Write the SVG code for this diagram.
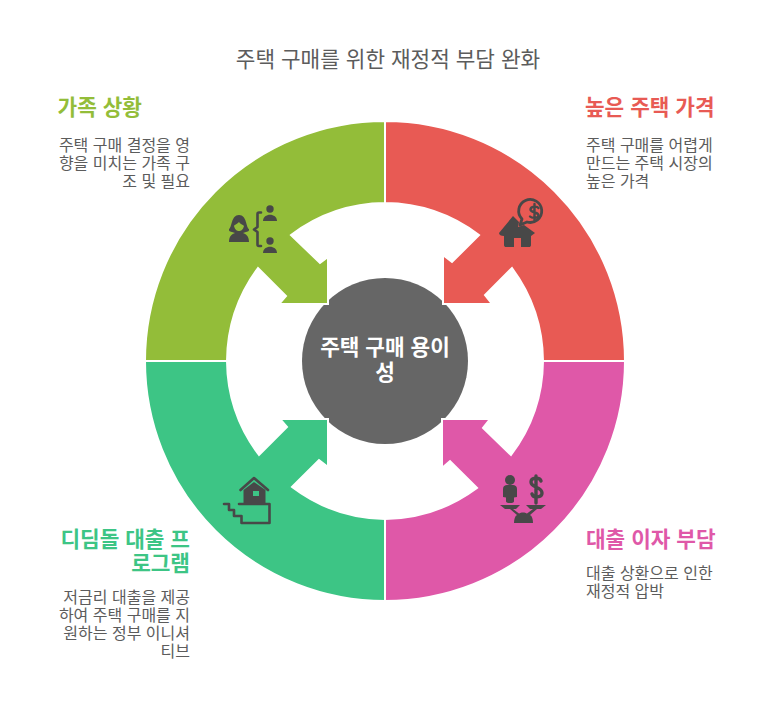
<svg xmlns="http://www.w3.org/2000/svg" width="776" height="710" viewBox="0 0 776 710">
<style>
text{font-family:"Liberation Sans","Noto Sans CJK KR",sans-serif}
.seg{stroke:#fff;stroke-width:2;stroke-linejoin:miter}
.ttl{font-size:21.33px;fill:#5c5c5c}
.h{font-size:21.33px;font-weight:700}
.b{font-size:16px;fill:#5c5c5c}
.c{font-size:21.33px;font-weight:700;fill:#fff;text-anchor:middle}
.ic{fill:#484848}
.il{fill:none;stroke:#484848;stroke-width:2.6;stroke-linecap:round;stroke-linejoin:round}
.e{text-anchor:end}
</style>
<rect width="776" height="710" fill="#fff"/>
<text class="ttl" x="388" y="67" text-anchor="middle">주택 구매를 위한 재정적 부담 완화</text>
<g id="center"><circle cx="385" cy="361" r="83" fill="#666"/>
<text class="c" x="385" y="355">주택 구매 용이</text>
<text class="c" x="385" y="380">성</text></g>
<g id="connectors">
<path class="seg" fill="#93bd39" d="M385 121A240 240 0 0 0 145 361H227A158 158 0 0 1 258 268L286 296L279 304H328V257L320 263L291 235A158 158 0 0 1 385 203Z"/>
<path class="seg" fill="#e85a54" d="M385 121A240 240 0 0 1 625 361H543A158 158 0 0 0 512 268L485 295L492 304H443V255L452 262L479 235A158 158 0 0 0 385 203Z"/>
<path class="seg" fill="#df58a8" d="M625 361A240 240 0 0 1 385 601V519A158 158 0 0 0 477 488L450 461L442 468V419H490L483 428L511 455A158 158 0 0 0 543 361Z"/>
<path class="seg" fill="#3dc585" d="M145 361A240 240 0 0 0 385 601V519A158 158 0 0 1 292 487L319 460L328 467V419H280L287 427L259 455A158 158 0 0 1 227 361Z"/>
</g>
<g id="family">
<text class="h e" x="142" y="115" fill="#93bd39">가족 상황</text>
<text class="b e" x="190" y="151">주택 구매 결정을 영</text>
<text class="b e" x="190" y="169">향을 미치는 가족 구</text>
<text class="b e" x="190" y="187">조 및 필요</text>
<g>
<path class="ic" d="M229 242C229 236 232 234 235 233L232 232C229 231.500 229 231 229 229C232 228 231 215 239 215C247 215 246 228 249 229C249 231 249 231.500 246 232L243 233C246 234 249 236 249 242Z"/>
<path fill="#93bd39" d="M239 222C236 225 234 225 234 226C235 230 237 231 239 231C241 231 243 230 244 226C244 225 241 225 239 222Z"/>
<circle cx="270" cy="209" r="3.700" class="ic"/><path class="ic" d="M263 221C263 212.500 277 212.500 277 221Z"/>
<circle cx="270" cy="241" r="3.700" class="ic"/><path class="ic" d="M263 253C263 244.500 277 244.500 277 253Z"/>
<path class="il" d="M261 212.500H259C258 212.500 257.500 213 257.500 214V227L254 229.500L257.500 232V244.500C257.500 245.500 258 246 259 246H261"/>
</g></g>
<g id="price">
<text class="h" x="585" y="115" fill="#e85a54">높은 주택 가격</text>
<text class="b" x="586" y="151">주택 구매를 어렵게</text>
<text class="b" x="586" y="169">만드는 주택 시장의</text>
<text class="b" x="586" y="187">높은 가격</text>
<g>
<path class="ic" d="M499 233L513 216L519 222L518 227L524 225L535 233L531 236V245C531 246.500 530 247 529 247H521V238H514V247H506C505 247 504 246.500 504 245V236C501 236 499 235 499 233Z"/>
<path d="M520 225L522 219A11.500 11.500 0 1 1 527 222Z" fill="none" stroke="#484848" stroke-width="2.800" stroke-linejoin="round"/>
<path d="M538.500 208C537 206 530.500 206 530.500 209.500C530.500 213 538.500 211.500 538.500 215.500C538.500 218.500 532 218.500 530 216.500M534.500 204V220.500" fill="none" stroke="#484848" stroke-width="2.400" stroke-linecap="round"/>
</g></g>
<g id="interest">
<text class="h" x="586" y="547" fill="#df58a8">대출 이자 부담</text>
<text class="b" x="586" y="579">대출 상환으로 인한</text>
<text class="b" x="586" y="597">재정적 압박</text>
<g>
<circle cx="510" cy="480" r="5" class="ic"/>
<path class="ic" d="M503 489C503 486 505 485 507 485H513C515 485 517 486 517 489V497L514 497.500V501C514 502.500 513 503 510 503C507 503 506 502.500 506 501V497.500L503 497Z"/>
<path d="M541 481C540 477 531 477 531 482C531 488 542 486.500 542 493C542 498 533 498 532 494M536 476V503" fill="none" stroke="#484848" stroke-width="3.400" stroke-linecap="round"/>
<path class="ic" d="M500 505H520L516 509H513L519 513.500C521 512 525 512 527 513.500L533 509H530L526 505H546L541 509H537L530 515C532 516 533 519 533 523H514C514 519 515 516 517 515L510 509H505Z"/>
</g></g>
<g id="program">
<text class="h e" x="190" y="547" fill="#3dc585">디딤돌 대출 프</text>
<text class="h e" x="190" y="571" fill="#3dc585">로그램</text>
<text class="b e" x="190" y="603">저금리 대출을 제공</text>
<text class="b e" x="190" y="621">하여 주택 구매를 지</text>
<text class="b e" x="190" y="639">원하는 정부 이니셔</text>
<text class="b e" x="190" y="657">티브</text>
<g>
<path class="il" d="M240.500 490L254 478L268 490"/>
<path class="ic" d="M243.500 504V490L254 482L265.500 490V504ZM253 491V496H259V491Z" fill-rule="evenodd"/>
<path class="il" d="M239 504H269.500V523H241.500V516H234V510H229V504H224"/>
</g></g>
</svg>
